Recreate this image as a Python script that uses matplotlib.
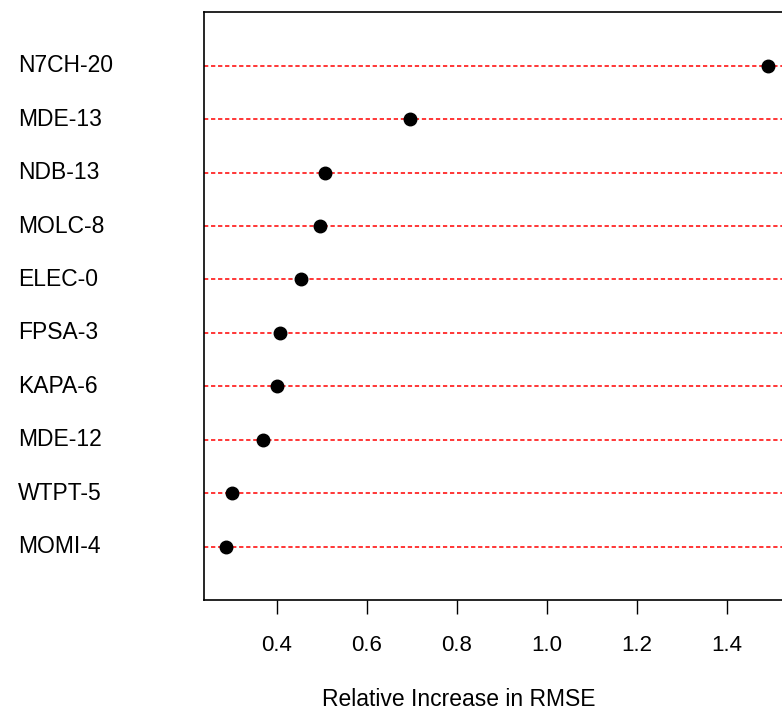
import matplotlib.pyplot as plt
import matplotlib.transforms as mtransforms

# dot chart of variable importance (relative increase in RMSE)
labels = ['MOMI-4', 'WTPT-5', 'MDE-12', 'KAPA-6', 'FPSA-3',
          'ELEC-0', 'MOLC-8', 'NDB-13', 'MDE-13', 'N7CH-20']
values = [0.287, 0.301, 0.370, 0.400, 0.407,
          0.453, 0.495, 0.507, 0.696, 1.492]
xticks = [0.4, 0.6, 0.8, 1.0, 1.2, 1.4]
xtick_labels = ['0.4', '0.6', '0.8', '1.0', '1.2', '1.4']

plt.rcParams['font.family'] = ['Liberation Sans', 'DejaVu Sans']

fig = plt.figure(figsize=(7.82, 7.15), dpi=100)
ax = fig.add_axes([0.2609, 0.1608, 0.749, 0.822])

ypos = list(range(1, len(labels) + 1))
for y in ypos:
    ax.axhline(y, color='red', lw=1.1, linestyle=(0, (2.8, 1.8)), zorder=1)
ax.plot(values, ypos, 'o', color='black', markersize=9, zorder=3)

ax.set_xlim(0.238, 1.54)
ax.set_ylim(0, 11)
ax.set_xticks(xticks)
ax.set_xticklabels(xtick_labels, fontsize=16)
ax.set_yticks([])
ax.tick_params(axis='x', direction='out', length=10, width=1, pad=15, colors='black')
for s in ax.spines.values():
    s.set_linewidth(1.2)

trans = mtransforms.blended_transform_factory(fig.transFigure, ax.transData)
for y, lab in zip(ypos, labels):
    ax.text(0.023, y, lab, transform=trans, ha='left', va='center', fontsize=16.5, clip_on=False)

fig.text(0.586, 1 - 699 / 715, 'Relative Increase in RMSE', ha='center', va='center', fontsize=16.5)

fig.savefig('out.png', dpi=100)
